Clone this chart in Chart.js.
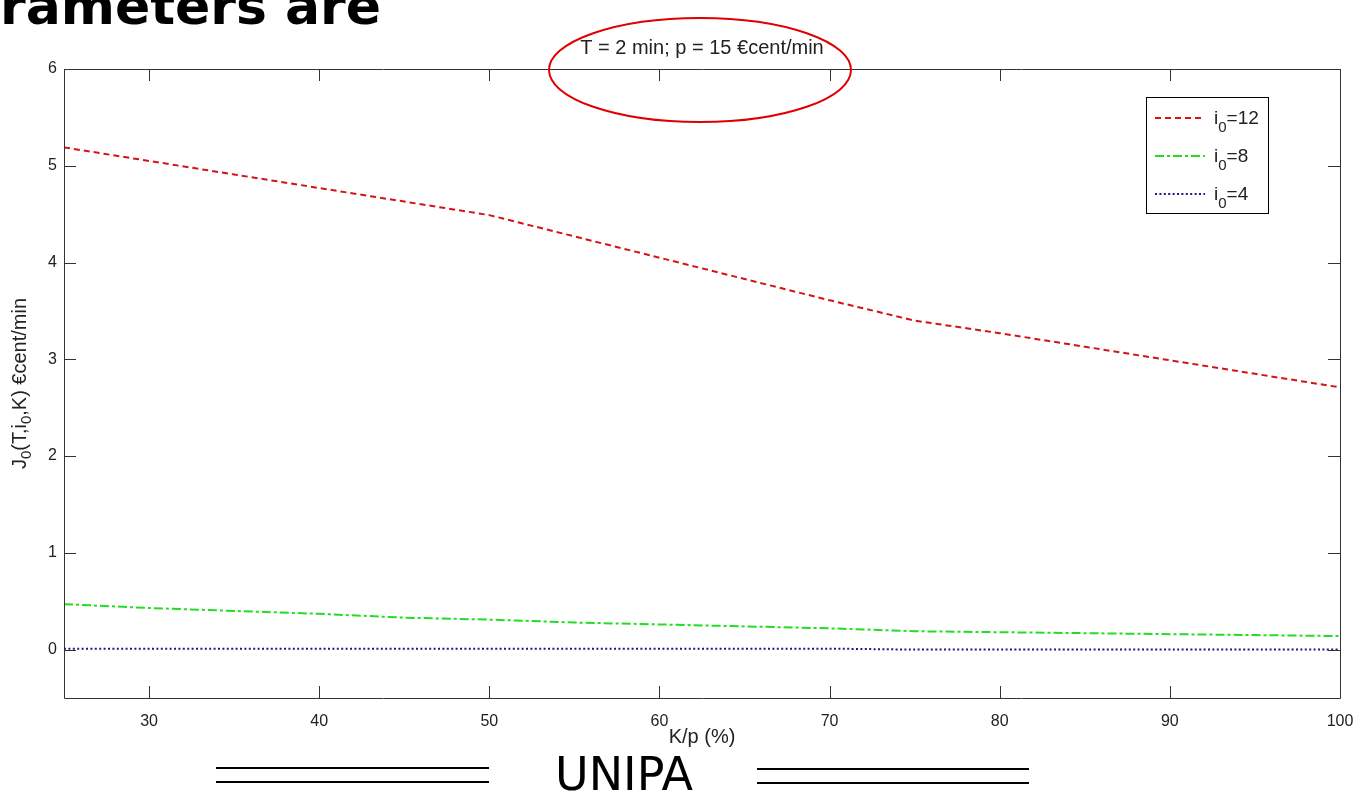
<!DOCTYPE html>
<html>
<head>
<meta charset="utf-8">
<script src="https://cdn.jsdelivr.net/npm/chart.js@4.4.1/dist/chart.umd.min.js"></script>
<style>
body { margin: 0; background: #fff; width: 1357px; height: 792px; position: relative; overflow: hidden; }
#chart { position: absolute; left: 0; top: 0; }
.heading { position: absolute; left: 0; top: -20px; font: bold 52px "DejaVu Sans"; line-height: 52px; white-space: nowrap; color: #000; }
.footer { position: absolute; left: 524px; width: 200px; top: 751px; text-align: center; font: 46px "DejaVu Sans"; line-height: 46px; color: #000; }
.rule { position: absolute; height: 12px; border-top: 2px solid #000; border-bottom: 2px solid #000; }
</style>
</head>
<body>
<div class="heading">rameters are</div>
<canvas id="chart" width="1357" height="792"></canvas>
<div class="rule" style="left:216px; top:767px; width:273px;"></div>
<div class="footer">UNIPA</div>
<div class="rule" style="left:757px; top:768px; width:272px;"></div>
<script>
// K/p (%) on x, J0 in €cent/min on y
const kp = [25, 30, 35, 40, 45, 50, 55, 60, 65, 70, 75, 80, 85, 90, 95, 100];
const j12 = [5.19, 5.05, 4.91, 4.77, 4.63, 4.49, 4.27, 4.05, 3.83, 3.61, 3.40, 3.27, 3.13, 2.99, 2.85, 2.71];
const j8 = [0.47, 0.43, 0.40, 0.37, 0.33, 0.31, 0.28, 0.26, 0.24, 0.22, 0.19, 0.18, 0.17, 0.16, 0.15, 0.14];
const j4 = [0.01, 0.01, 0.01, 0.01, 0.01, 0.01, 0.01, 0.01, 0.01, 0.01, 0.0, 0.0, 0.0, 0.0, 0.0, 0.0];
const i0Values = [12, 8, 4];
const xTicks = [30, 40, 50, 60, 70, 80, 90, 100];
const yTicks = [0, 1, 2, 3, 4, 5, 6];

const pts = (ys) => kp.map((k, i) => ({x: k, y: ys[i]}));
const FONT = '"Liberation Sans", Arial, sans-serif';

Chart.defaults.font.family = FONT;
Chart.defaults.font.size = 16;
Chart.defaults.color = '#222';

// draws pieces of text, every second piece as a subscript
function subText(ctx, parts, x, y, size, subSize, drop) {
    parts.forEach((p, i) => {
        ctx.font = (i % 2 ? subSize : size) + 'px ' + FONT;
        ctx.fillText(p, x, y + (i % 2 ? drop : 0));
        x += ctx.measureText(p).width;
    });
}
function subWidth(ctx, parts, size, subSize) {
    return parts.reduce((w, p, i) => {
        ctx.font = (i % 2 ? subSize : size) + 'px ' + FONT;
        return w + ctx.measureText(p).width;
    }, 0);
}

// matlab style box, inward ticks, legend and y label with subscripts
const matlabBox = {
    id: 'matlabBox',
    afterDatasetsDraw(chart) {
        const {ctx, chartArea: a, scales: {x, y}} = chart;
        ctx.save();
        ctx.strokeStyle = '#333';
        ctx.lineWidth = 1;
        ctx.beginPath();
        ctx.rect(a.left + 0.5, a.top + 0.5, a.right - a.left, a.bottom - a.top);
        x.ticks.forEach(t => {
            const px = Math.round(x.getPixelForValue(t.value)) + 0.5;
            ctx.moveTo(px, a.bottom); ctx.lineTo(px, a.bottom - 12);
            ctx.moveTo(px, a.top); ctx.lineTo(px, a.top + 12);
        });
        y.ticks.forEach(t => {
            const py = Math.round(y.getPixelForValue(t.value)) + 0.5;
            ctx.moveTo(a.left, py); ctx.lineTo(a.left + 12, py);
            ctx.moveTo(a.right, py); ctx.lineTo(a.right - 12, py);
        });
        ctx.stroke();

        const lx = a.right - 194, ly = a.top + 28;
        ctx.fillStyle = '#fff';
        ctx.fillRect(lx, ly, 122, 116);
        ctx.strokeStyle = '#000';
        ctx.strokeRect(lx + 0.5, ly + 0.5, 122, 116);
        ctx.textBaseline = 'alphabetic';
        chart.data.datasets.forEach((ds, i) => {
            const ry = ly + 21 + i * 38;
            ctx.strokeStyle = ds.borderColor;
            ctx.lineWidth = ds.borderWidth;
            ctx.setLineDash(ds.borderDash);
            ctx.beginPath();
            ctx.moveTo(lx + 9, ry); ctx.lineTo(lx + 59, ry);
            ctx.stroke();
            ctx.setLineDash([]);
            ctx.fillStyle = '#222';
            subText(ctx, ['i', '0', '=' + i0Values[i]], lx + 68, ry + 6, 19, 15, 8);
        });

        // y axis label
        const yParts = ['J', '0', '(T,i', '0', ',K) €cent/min'];
        ctx.translate(22, (a.top + a.bottom) / 2);
        ctx.rotate(-Math.PI / 2);
        ctx.textBaseline = 'middle';
        ctx.fillStyle = '#222';
        const w = subWidth(ctx, yParts, 20, 15);
        subText(ctx, yParts, -w / 2, -2, 20, 15, 7);
        ctx.restore();
    },
    afterDraw(chart) {
        const {ctx, chartArea: a} = chart;
        ctx.save();
        ctx.strokeStyle = '#e00000';
        ctx.lineWidth = 2;
        ctx.beginPath();
        ctx.ellipse((a.left + a.right) / 2 - 2, a.top + 1, 151, 52, 0, 0, Math.PI * 2);
        ctx.stroke();
        ctx.restore();
    }
};

new Chart(document.getElementById('chart').getContext('2d'), {
    type: 'line',
    data: {
        datasets: [{
            label: 'i0=12',
            data: pts(j12),
            borderColor: '#d41414',
            borderWidth: 2,
            borderDash: [6, 4],
            pointRadius: 0,
            fill: false
        }, {
            label: 'i0=8',
            data: pts(j8),
            borderColor: '#22dd22',
            borderWidth: 2,
            borderDash: [9, 3, 3, 3],
            pointRadius: 0,
            fill: false
        }, {
            label: 'i0=4',
            data: pts(j4),
            borderColor: '#1a1a8c',
            borderWidth: 2,
            borderDash: [2, 2.4],
            pointRadius: 0,
            fill: false
        }]
    },
    options: {
        responsive: false,
        animation: false,
        layout: {padding: {left: 0, right: 17, top: 0, bottom: 30}},
        plugins: {
            legend: {display: false},
            tooltip: {enabled: false},
            title: {
                display: true,
                text: 'T = 2 min; p = 15 €cent/min',
                fullSize: false,
                color: '#222',
                font: {size: 20, weight: 'normal'},
                padding: {top: 36, bottom: 9}
            }
        },
        scales: {
            x: {
                type: 'linear',
                min: 25,
                max: 100,
                afterBuildTicks: (s) => { s.ticks = xTicks.map(v => ({value: v})); },
                afterFit: (s) => { s.height = 64; s.paddingLeft = 0; s.paddingRight = 0; },
                grid: {display: false, drawTicks: false},
                border: {display: false},
                ticks: {padding: 14, maxRotation: 0},
                title: {display: true, text: 'K/p (%)', color: '#222', font: {size: 20}, padding: {top: 0, bottom: 13}}
            },
            y: {
                min: -0.5,
                max: 6,
                afterBuildTicks: (s) => { s.ticks = yTicks.map(v => ({value: v})); },
                afterFit: (s) => { s.width = 64; s.paddingTop = 0; s.paddingBottom = 0; },
                grid: {display: false, drawTicks: false},
                border: {display: false},
                ticks: {padding: 7}
            }
        }
    },
    plugins: [matlabBox]
});
</script>
</body>
</html>
